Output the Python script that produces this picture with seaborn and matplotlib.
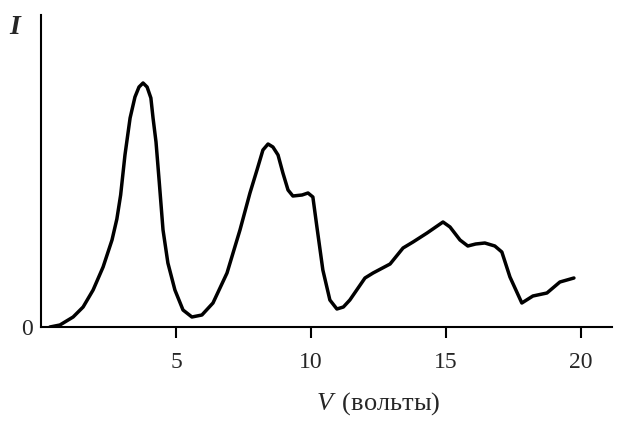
import numpy as np
import pandas as pd
import seaborn as sns
import matplotlib.pyplot as plt

# Franck-Hertz curve, values
voltage = [0.33, 0.70, 1.19, 1.56, 1.93, 2.30, 2.63, 2.81, 2.95, 3.11, 3.30, 3.48,
           3.63, 3.78, 3.93, 4.07, 4.15, 4.26, 4.38, 4.52, 4.70, 4.96, 5.26, 5.59,
           5.96, 6.37, 6.89, 7.37, 7.74, 8.00, 8.22, 8.41, 8.59, 8.78, 8.96, 9.15,
           9.33, 9.67, 9.89, 10.07, 10.22, 10.44, 10.70, 10.96, 11.20, 11.44, 12.00,
           12.30, 12.93, 13.41, 13.78, 14.30, 14.89, 15.15, 15.52, 15.81, 16.10,
           16.44, 16.81, 17.07, 17.37, 17.81, 18.22, 18.74, 19.22, 19.74]
current = [0, 2, 10, 20, 37, 60, 87, 108, 132, 172, 209, 230,
           240, 244, 240, 229, 209, 185, 145, 97, 64, 37, 17, 10,
           12, 24, 54, 97, 134, 157, 177, 183, 180, 172, 154, 137,
           131, 132, 134, 130, 100, 57, 27, 18, 20, 27, 49,
           54, 63, 79, 85, 94, 105, 100, 87, 81, 83,
           84, 81, 75, 50, 24, 31, 34, 45, 49]

tick_pos = [5, 10, 15, 20]
tick_lab = ["5", "10", "15", "20"]

sns.set_style("ticks")
plt.rcParams['font.family'] = ['Liberation Serif', 'DejaVu Serif']
plt.rcParams['mathtext.fontset'] = 'custom'
plt.rcParams['mathtext.it'] = 'Liberation Serif:italic'
plt.rcParams['mathtext.rm'] = 'Liberation Serif'

fig = plt.figure(figsize=(6.2, 4.32), dpi=100)
ax = fig.add_axes([41 / 620, 1 - 327 / 432, (612 - 41) / 620, 312 / 432])

df = pd.DataFrame({"V": voltage, "I": current})
sns.lineplot(data=df, x="V", y="I", color="black", linewidth=2.5, ax=ax,
             solid_joinstyle="round", solid_capstyle="round")

ax.set_xlim(0, 21.15)
ax.set_ylim(0, 312)
ax.set_xticks(tick_pos)
ax.set_xticklabels(tick_lab, fontsize=17)
ax.set_yticks([0])
ax.set_yticklabels(["0"], fontsize=17)
ax.tick_params(axis="x", direction="out", length=8, width=1.5, pad=10, color="black")
ax.tick_params(axis="y", length=0, pad=6)

for s in ["top", "right"]:
    ax.spines[s].set_visible(False)
for s in ["left", "bottom"]:
    ax.spines[s].set_linewidth(1.5)
    ax.spines[s].set_color("black")

ax.set_xlabel("")
ax.set_ylabel("")
ax.text(0.59, -0.245, r"$V\,$ (вольты)", transform=ax.transAxes, fontsize=19,
        ha="center", va="center")
ax.text(-0.047, 0.96, "I", transform=ax.transAxes, fontsize=20,
        fontstyle="italic", fontweight="bold", ha="center", va="center")

fig.savefig("out.png", dpi=100)
